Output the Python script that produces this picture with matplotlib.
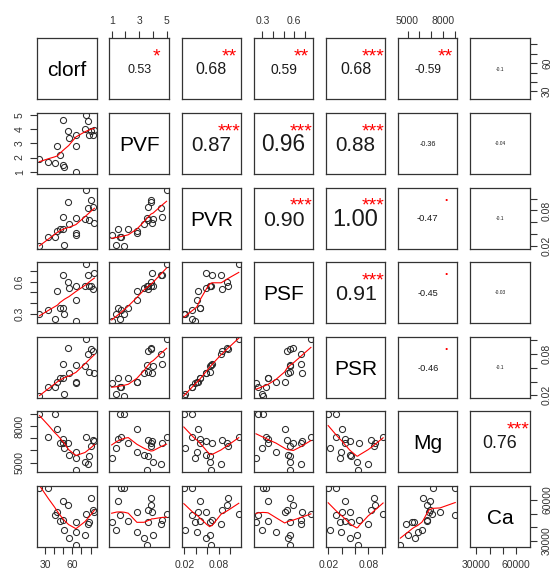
import numpy as np
import matplotlib
matplotlib.use("Agg")
import matplotlib.pyplot as plt

plt.rcParams['font.family'] = ['Liberation Sans', 'DejaVu Sans']

# variables (one row per sample)
names = ["clorf", "PVF", "PVR", "PSF", "PSR", "Mg", "Ca"]
clorf = [23.8, 33.6, 40.4, 43.5, 46.4, 49.4, 50.2, 51.1, 55.2, 55.9,
         63.9, 63.9, 63.9, 73.8, 74.9, 77.4, 78.5, 80.3, 83.1, 84.2]
pvf = [1.93, 1.70, 1.59, 2.84, 2.21, 4.69, 1.47, 1.35, 3.90, 3.37,
       3.61, 2.84, 1.00, 4.02, 5.00, 4.60, 3.63, 3.86, 3.63, 3.93]
pvr = [0.0189, 0.0341, 0.0341, 0.0443, 0.0477, 0.0682, 0.0477, 0.0217, 0.0944, 0.0570,
       0.0671, 0.0416, 0.0387, 0.0654, 0.1153, 0.0842, 0.0643, 0.0971, 0.0859, 0.0586]
psf = [0.306, 0.336, 0.261, 0.510, 0.354, 0.661, 0.354, 0.300, 0.592, 0.541,
       0.562, 0.429, 0.239, 0.562, 0.758, 0.661, 0.562, 0.556, 0.532, 0.677]
psr = [0.0196, 0.0314, 0.0314, 0.0400, 0.0449, 0.0663, 0.0449, 0.0220, 0.0892, 0.0520,
       0.0639, 0.0391, 0.0377, 0.0624, 0.1020, 0.0796, 0.0543, 0.0878, 0.0843, 0.0529]
mg = [9000, 7130, 8940, 7720, 6600, 6600, 6920, 6200, 6600, 5660,
      4400, 5850, 5400, 5050, 7080, 4860, 5530, 6330, 6860, 6800]
ca = [68600, 68600, 48700, 51100, 44600, 45600, 59000, 37900, 56600, 31900,
      27100, 36700, 43900, 34300, 49900, 42700, 43900, 61400, 52300, 51500]

# correlation text and significance stars of the upper panels (row by row)
cor_text = [
    ["0.53", "0.68", "0.59", "0.68", "-0.59", "-0.1"],
    ["0.87", "0.96", "0.88", "-0.36", "-0.04"],
    ["0.90", "1.00", "-0.47", "-0.1"],
    ["0.91", "-0.45", "-0.03"],
    ["-0.46", "-0.1"],
    ["0.76"],
]
cor_sig = [
    ["*", "**", "**", "***", "**", ""],
    ["***", "***", "***", "", ""],
    ["***", "***", ".", ""],
    ["***", ".", ""],
    [".", ""],
    ["***"],
]

# axis ticks and their labels
tick_vals = {
    "clorf": [30, 40, 50, 60, 70, 80],
    "PVF": [1, 2, 3, 4, 5],
    "PVR": [0.02, 0.04, 0.06, 0.08, 0.10],
    "PSF": [0.3, 0.4, 0.5, 0.6, 0.7],
    "PSR": [0.02, 0.04, 0.06, 0.08, 0.10],
    "Mg": [5000, 6000, 7000, 8000, 9000],
    "Ca": [30000, 40000, 50000, 60000],
}
tick_labs = {
    "clorf": ["30", "", "", "60", "", ""],
    "PVF": ["1", "", "3", "", "5"],
    "PVR": ["0.02", "", "", "0.08", ""],
    "PSF": ["0.3", "", "", "0.6", ""],
    "PSR": ["0.02", "", "", "0.08", ""],
    "Mg": ["5000", "", "", "8000", ""],
    "Ca": ["30000", "", "", "60000"],
}
ytick_labs = dict(tick_labs)
ytick_labs["PVF"] = ["1", "2", "3", "4", "5"]

data = [np.array(v, float) for v in (clorf, pvf, pvr, psf, psr, mg, ca)]
nv = len(names)


def lowess(x, y, f=2 / 3, iters=3):
    order = np.argsort(x, kind="stable")
    x = np.asarray(x, float)[order]
    y = np.asarray(y, float)[order]
    n = len(x)
    ns = max(min(int(f * n + 1e-7), n), 2)
    xr = x[-1] - x[0]
    rw = np.ones(n)
    fit = np.zeros(n)
    for it in range(iters + 1):
        for i in range(n):
            d = np.abs(x - x[i])
            h = np.sort(d)[ns - 1]
            if h > 0:
                w = np.where(d <= 0.001 * h, 1.0,
                             np.where(d > 0.999 * h, 0.0, (1 - (d / h) ** 3) ** 3))
            else:
                w = (d == 0).astype(float)
            w = w * rw
            sw = w.sum()
            if sw <= 0:
                fit[i] = y[i]
                continue
            w = w / sw
            xm = (w * x).sum()
            c = (w * (x - xm) ** 2).sum()
            if np.sqrt(c) > 0.001 * xr:
                b = (x[i] - xm) / c
                w = w * (b * (x - xm) + 1.0)
            fit[i] = (w * y).sum()
        if it == iters:
            break
        res = np.abs(y - fit)
        cmad = 6 * np.median(res)
        if cmad < 1e-7 * np.mean(np.abs(y)):
            break
        rw = np.where(res <= 0.001 * cmad, 1.0,
                      np.where(res > 0.999 * cmad, 0.0, (1 - (res / cmad) ** 2) ** 2))
    return x, fit


def str_w(s):
    return sum(0.278 if ch == "." else 0.333 if ch == "-" else 0.556 for ch in s)


W, H = 551, 570
fig = plt.figure(figsize=(W / 100, H / 100), dpi=100)
lab_col = "#333333"
frame_col = "#333333"
star_fs = 14

lims = []
for v in data:
    pad = 0.04 * (v.max() - v.min())
    lims.append((v.min() - pad, v.max() + pad))

for i in range(nv):
    for j in range(nv):
        left = 37.3 + j * 72.17
        top = 38.3 + i * 74.62
        ax = fig.add_axes([left / W, 1 - (top + 61) / H, 59.3 / W, 61 / H])
        for s in ax.spines.values():
            s.set_color(frame_col)
            s.set_linewidth(0.9)
        ax.set_xticks([])
        ax.set_yticks([])

        if i > j:
            ax.plot(data[j], data[i], "o", mfc="none", mec="#2a2a2a", ms=4.4, mew=0.75)
            lx, ly = lowess(data[j], data[i])
            ax.plot(lx, ly, color="red", lw=0.8)
        elif i == j:
            ax.annotate(names[i], (0.5, 0.5), xycoords="axes fraction",
                        xytext=(0, -0.36 * 15), textcoords="offset points",
                        ha="center", va="baseline", fontsize=15, color="black")
        else:
            txt = cor_text[i][j - i - 1]
            sig = cor_sig[i][j - i - 1]
            r = abs(float(txt))
            fs = max(17 * r * str_w("0.00") / str_w(txt), 3.5)
            ax.annotate(txt, (0.5, 0.5), xycoords="axes fraction",
                        xytext=(0, -0.355 * fs), textcoords="offset points",
                        ha="center", va="baseline", fontsize=fs, color="#1a1a1a")
            if sig:
                off = 0.05 if sig == "." else 0.57
                ax.annotate(sig, (0.8, 0.8), xycoords="axes fraction",
                            xytext=(0, -off * star_fs), textcoords="offset points",
                            ha="center", va="baseline", fontsize=star_fs, color="red")

        # outer axes, alternating sides like R's pairs()
        tp = dict(length=5, width=0.8, color=frame_col, labelsize=7.5,
                  labelcolor=lab_col, pad=4, direction="out")
        if i == 0 and j % 2 == 1:
            ax.set_xticks(tick_vals[names[j]], tick_labs[names[j]])
            ax.xaxis.set_ticks_position("top")
            ax.tick_params(axis="x", **tp)
        if i == nv - 1 and j % 2 == 0:
            ax.set_xticks(tick_vals[names[j]], tick_labs[names[j]])
            ax.xaxis.set_ticks_position("bottom")
            ax.tick_params(axis="x", **tp)
        if j == 0 and i % 2 == 1:
            ax.set_yticks(tick_vals[names[i]], ytick_labs[names[i]])
            ax.yaxis.set_ticks_position("left")
            ax.tick_params(axis="y", labelrotation=90, **tp)
            for t in ax.get_yticklabels():
                t.set_va("center")
        if j == nv - 1 and i % 2 == 0:
            ax.set_yticks(tick_vals[names[i]], ytick_labs[names[i]])
            ax.yaxis.set_ticks_position("right")
            ax.tick_params(axis="y", labelrotation=90, **tp)
            for t in ax.get_yticklabels():
                t.set_va("center")
        ax.set_xlim(lims[j])
        ax.set_ylim(lims[i])

fig.savefig("out.png", dpi=100)
